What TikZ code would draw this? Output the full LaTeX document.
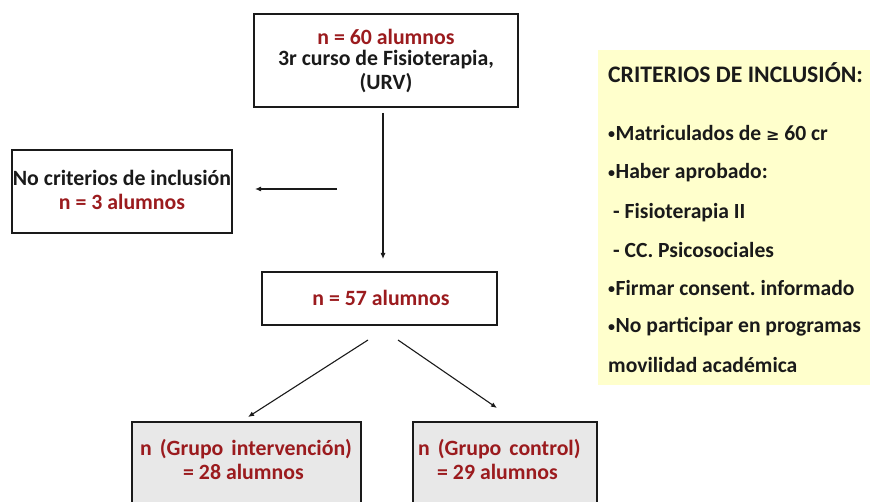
\documentclass[tikz,border=0pt]{standalone}
\usepackage{fontspec}
\setmainfont{Carlito}
\newfontfamily\symfont{DejaVu Sans}
\usetikzlibrary{arrows.meta}
\frenchspacing
\definecolor{nred}{HTML}{9B1B1E}
\definecolor{ink}{HTML}{1A1A1A}
\definecolor{groupfill}{HTML}{E8E8E8}
\definecolor{notefill}{HTML}{FFFFCC}
\newcommand{\bul}{{\fontsize{14}{14}\selectfont\raisebox{1.5pt}{•}}\hspace{0.5pt}}
\tikzset{
  box/.style={draw=ink, line width=1.2pt, fill=white, inner sep=0pt},
  groupbox/.style={box, fill=groupfill},
  arr/.style={draw=ink, line width=1.1pt, -{Latex[length=6pt,width=5pt]}},
  txt/.style={font=\bfseries\fontsize{21.8}{26}\selectfont, inner sep=0pt},
  note/.style={font=\bfseries\fontsize{21.6}{26}\selectfont, inner sep=0pt, anchor=west, text=ink},
}
\begin{document}
\begin{tikzpicture}[x=1pt,y=-1pt]
\useasboundingbox (0,0) rectangle (870,502);
% flowchart boxes
\node[box, minimum width=264pt, minimum height=93pt] (top) at (386,60.5) {};
\node[txt, text=nred] (t1) at (386,37) {n = 60 alumnos};
\node[txt, text=ink] (t2) at (386,60) {3r curso de Fisioterapia,};
\node[txt, text=ink] (t3) at (386,83) {(URV)};

\node[box, minimum width=220pt, minimum height=83pt] (excl) at (122,191.5) {};
\node[txt, text=ink] (e1) at (122,178) {No criterios de inclusión};
\node[txt, text=nred] (e2) at (122,202) {n = 3 alumnos};

\node[box, minimum width=235pt, minimum height=53pt] (mid) at (379.5,298.5) {};
\node[txt, text=nred] (m1) at (381,298) {n = 57 alumnos};

\node[groupbox, minimum width=229pt, minimum height=92pt] (gi) at (246.5,468) {};
\node[txt, text=nred, anchor=west] (g1) at (140,449) {n\hspace{8pt}(Grupo\hspace{8pt}intervención)};
\node[txt, text=nred, anchor=west] (g2) at (183,472) {= 28 alumnos};

\node[groupbox, minimum width=184pt, minimum height=92pt] (gc) at (505,468) {};
\node[txt, text=nred, anchor=west] (c1) at (418,449) {n\hspace{8pt}(Grupo\hspace{8pt}control)};
\node[txt, text=nred, anchor=west] (c2) at (437,472) {= 29 alumnos};

% connectors
\coordinate (vA) at (383,113);
\coordinate (vB) at (383,259);
\draw[arr] (vA) -- (vB);
\coordinate (hA) at (337,189);
\coordinate (hB) at (255,189);
\draw[arr] (hA) -- (hB);
\coordinate (lA) at (368,340);
\coordinate (lB) at (248,417);
\draw[arr] (lA) -- (lB);
\coordinate (rA) at (398,340);
\coordinate (rB) at (497,408);
\draw[arr] (rA) -- (rB);

% inclusion criteria panel
\node[fill=notefill, minimum width=272pt, minimum height=335pt, inner sep=0pt] (panel) at (734,217.5) {};
\node[note, font=\bfseries\fontsize{23.7}{28}\selectfont] (ph) at (608,73) {CRITERIOS DE INCLUSIÓN:};
\node[note] (p1) at (608,133) {\bul Matriculados de {\symfont\fontsize{16}{18}\selectfont ≥} 60 cr};
\node[note] (p2) at (608,173) {\bul Haber aprobado:};
\node[note] (p3) at (608,213) {\hspace{5pt}- Fisioterapia II};
\node[note] (p4) at (608,250) {\hspace{5pt}- CC. Psicosociales};
\node[note] (p5) at (608,288) {\bul Firmar consent. informado};
\node[note] (p6) at (608,327) {\bul No participar en programas};
\node[note] (p7) at (608,365) {movilidad académica};
\end{tikzpicture}
\end{document}
